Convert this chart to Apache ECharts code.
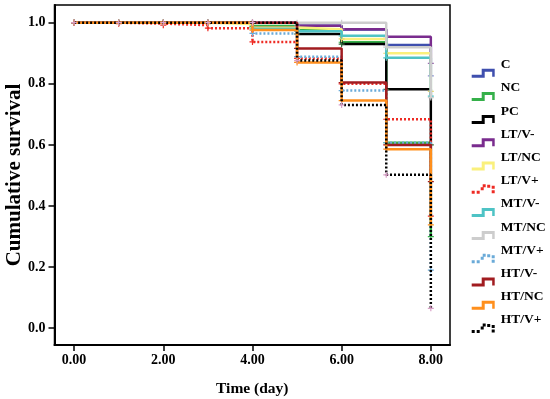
<!DOCTYPE html>
<html>
<head>
<meta charset="utf-8">
<script src="https://cdn.jsdelivr.net/npm/echarts@6/dist/echarts.min.js"></script>
<style>html,body{margin:0;padding:0;background:#fff}#c{width:550px;height:399px}</style>
</head>
<body>
<div id="c"></div>
<script>
// ---- data ----
var times = [0, 1, 2, 3, 4, 5, 6, 7, 8];
var groupNames = ['C', 'NC', 'PC', 'LT/V-', 'LT/NC', 'LT/V+', 'MT/V-', 'MT/NC', 'MT/V+', 'HT/V-', 'HT/NC', 'HT/V+'];
var C_vals    = [1, 1, 1, 1, 1, 0.990, 0.978, 0.927, 0.826];
var NC_vals   = [1, 1, 1, 1, 0.989, 0.975, 0.936, 0.607, 0.300];
var PC_vals   = [1, 1, 1, 1, 0.985, 0.963, 0.930, 0.782, 0.600];
var LTVm_vals = [1, 1, 1, 1, 1, 0.990, 0.979, 0.954, 0.867];
var LTNC_vals = [1, 1, 1, 0.996, 0.984, 0.979, 0.947, 0.900, 0.775];
var LTVp_vals = [1, 0.997, 0.992, 0.982, 0.937, 0.883, 0.800, 0.684, 0.367];
var MTVm_vals = [1, 1, 1, 1, 0.980, 0.972, 0.957, 0.885, 0.760];
var MTNC_vals = [1, 1, 1, 1, 1, 1, 1, 0.920, 0.755];
var MTVp_vals = [1, 1, 1, 1, 0.965, 0.889, 0.778, 0.607, 0.190];
var HTVm_vals = [1, 1, 1, 1, 1, 0.916, 0.804, 0.600, 0.480];
var HTNC_vals = [1, 1, 1, 1, 0.976, 0.870, 0.745, 0.586, 0.338];
var HTVp_vals = [1, 1, 1, 1, 1, 0.876, 0.731, 0.502, 0.065];
var xTicks = [0, 2, 4, 6, 8];
var yTicks = [0, 0.2, 0.4, 0.6, 0.8, 1.0];

// ---- styles ----
var allVals = [C_vals, NC_vals, PC_vals, LTVm_vals, LTNC_vals, LTVp_vals, MTVm_vals, MTNC_vals, MTVp_vals, HTVm_vals, HTNC_vals, HTVp_vals];
var colors = ['#3F4FAE', '#35B04A', '#000000', '#7A2C8E', '#FAF07C', '#EE2B24', '#4EC3C5', '#CDCDCD', '#6AAAD8', '#A11C20', '#FF8F1C', '#000000'];
var markColors = ['#8A8FD0', '#35B04A', '#2E6B3A', '#9B6AB0', '#E8D870', '#EE2B24', '#4EC3C5', '#CDCDCD', '#6AAAD8', '#A11C20', '#FF8F1C', '#D9A0C8'];
var dotted = [false, false, false, false, false, true, false, false, true, false, false, true];

var SOLID_ICON = 'path://M0 0L0.01 0L0.01 0.01Z M0 23L10 23L10 17L23 17L23 25L20.5 25L20.5 20L13 20L13 26L0 26Z';
var DOT_ICON = 'path://M0 0L0.01 0L0.01 0.01Z M0 23h3v3h-3Z M5 23h3v3h-3Z M9 19.5h3v3h-3Z M11 16.5h3v3h-3Z M15.5 17h3v3h-3Z M20 18h3v3h-3Z M20 22.5h3v3h-3Z';
var PLUS = 'path://M4 0h2v10h-2zM0 4h10v2h-10z';

var font = 'Liberation Serif';
var series = groupNames.map(function (name, i) {
  return {
    name: name,
    type: 'line',
    step: 'end',
    data: times.map(function (t, k) { return [t, allVals[i][k]]; }),
    symbol: PLUS,
    symbolSize: 6,
    showSymbol: true,
    itemStyle: { color: markColors[i] },
    lineStyle: { color: colors[i], width: 2.5, type: dotted[i] ? [2, 2] : 'solid' },
    emphasis: { disabled: true },
    z: 2 + i
  };
});

var chart = echarts.init(document.getElementById('c'), null, { renderer: 'canvas' });
chart.setOption({
  animation: false,
  grid: { left: 54.5, right: 100, top: 5, bottom: 54, outerBoundsMode: 'none', containLabel: false, show: true, borderColor: '#000', borderWidth: 1.5, backgroundColor: 'transparent' },
  legend: {
    orient: 'vertical',
    left: 466.7,
    top: 46.7,
    itemWidth: 23,
    itemHeight: 26,
    itemGap: -2.8,
    data: groupNames.map(function (n, i) { return { name: n, icon: dotted[i] ? DOT_ICON : SOLID_ICON, itemStyle: { color: colors[i] } }; }),
    textStyle: { fontFamily: font, fontWeight: 'bold', fontSize: 13.5, color: '#000', padding: [0, 0, 0, 1] },
    selectedMode: false
  },
  xAxis: {
    type: 'value', min: -0.44, max: 8.43,
    splitLine: { show: false },
    axisLine: { show: true, onZero: false, lineStyle: { color: '#000', width: 2 } },
    axisTick: { show: true, customValues: xTicks, length: 6, lineStyle: { color: '#000', width: 1.5 } },
    axisLabel: { customValues: xTicks, formatter: function (v) { return v.toFixed(2); }, fontFamily: font, fontWeight: 'bold', fontSize: 14, color: '#000', margin: 8 },
    name: 'Time (day)', nameLocation: 'middle', nameGap: 36,
    nameTextStyle: { fontFamily: font, fontWeight: 'bold', fontSize: 15.5, color: '#000' }
  },
  yAxis: {
    type: 'value', min: -0.055, max: 1.058,
    splitLine: { show: false },
    axisLine: { show: true, onZero: false, lineStyle: { color: '#000', width: 2 } },
    axisTick: { show: true, customValues: yTicks, length: 6, lineStyle: { color: '#000', width: 1.5 } },
    axisLabel: { customValues: yTicks, formatter: function (v) { return v.toFixed(1); }, fontFamily: font, fontWeight: 'bold', fontSize: 14, color: '#000', margin: 9 },
    name: 'Cumulative survival', nameLocation: 'middle', nameGap: 29, nameMoveOverlap: false,
    nameTextStyle: { fontFamily: font, fontWeight: 'bold', fontSize: 21, color: '#000' }
  },
  series: series
});
</script>
</body>
</html>
